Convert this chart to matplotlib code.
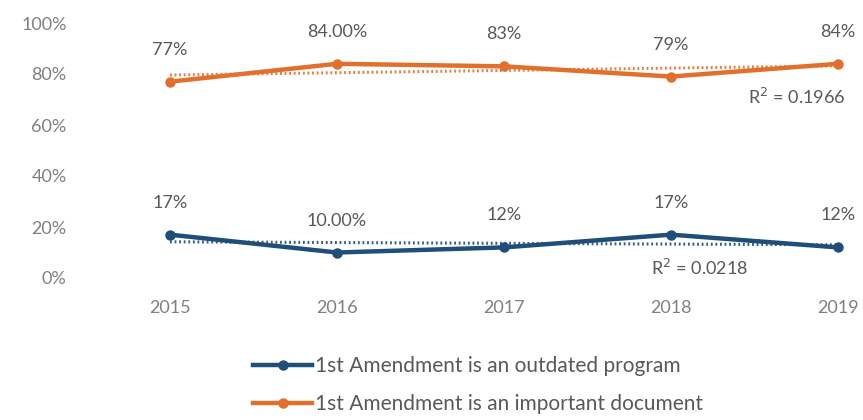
import numpy as np
import matplotlib
matplotlib.use("Agg")
import matplotlib.pyplot as plt
from matplotlib import font_manager

years = ["2015", "2016", "2017", "2018", "2019"]
outdated = [17, 10, 12, 17, 12]
important = [77, 84, 83, 79, 84]
outdated_decimals = [0, 2, 0, 0, 0]
important_decimals = [0, 2, 0, 0, 0]
series_names = ["1st Amendment is an outdated program",
                "1st Amendment is an important document"]
y_ticks = [0, 20, 40, 60, 80, 100]

available = {f.name for f in font_manager.fontManager.ttflist}
family = next((f for f in ["Lato", "Open Sans", "Liberation Sans", "DejaVu Sans"]
               if f in available), "DejaVu Sans")
plt.rcParams["font.family"] = [family, "DejaVu Sans"]

BLUE = "#1f4e79"
ORANGE = "#e0702c"
TEXT = "#595959"
TICK = "#808080"

W, H = 863, 420
fig = plt.figure(figsize=(W / 100, H / 100), dpi=100)
# axes spans x-px 75..863, y-px 23..278 (from top)
left_px, right_px = 75, 863
x0_px, step_px = 170, 167
xmin = -(x0_px - left_px) / step_px
xmax = 4 + (right_px - (x0_px + 4 * step_px)) / step_px
ax = fig.add_axes([left_px / W, (H - 278) / H, (right_px - left_px) / W, (278 - 23) / H])
ax.set_xlim(xmin, xmax)
ax.set_ylim(0, 100)
for s in ax.spines.values():
    s.set_visible(False)

x = np.arange(len(years))


def draw_series(vals, decimals, color, r2_pos):
    ax.plot(x, vals, color=color, lw=3.2, marker="o", ms=6.5, zorder=3, clip_on=False)
    slope, intercept = np.polyfit(x, vals, 1)
    fit = slope * x + intercept
    ss_res = np.sum((np.array(vals) - fit) ** 2)
    ss_tot = np.sum((np.array(vals) - np.mean(vals)) ** 2)
    r2 = 1 - ss_res / ss_tot
    ax.plot(x, fit, color=color, lw=2.2, linestyle=(0, (0.6, 0.9)), zorder=2, alpha=0.9)
    for xi, v, d in zip(x, vals, decimals):
        ax.annotate(f"{v:.{d}f}%", (xi, v), xytext=(0, 23), textcoords="offset points",
                    ha="center", va="center", fontsize=13, color=TEXT)
    ax.text(r2_pos[0], r2_pos[1], f"R$^2$ = {r2:.4f}", ha="center", va="center",
            fontsize=13, color=TEXT)


draw_series(outdated, outdated_decimals, BLUE, (3.17, 4))
draw_series(important, important_decimals, ORANGE, (3.75, 71))

ax.set_yticks(y_ticks)
ax.set_yticklabels([f"{t}%" for t in y_ticks])
ax.set_xticks(x)
ax.set_xticklabels(years)
ax.tick_params(axis="both", length=0, labelsize=13, labelcolor=TICK)
ax.tick_params(axis="y", pad=6)
ax.tick_params(axis="x", pad=16)

h1, = ax.plot([], [], color=BLUE, lw=3.2, marker="o", ms=6.5)
h2, = ax.plot([], [], color=ORANGE, lw=3.2, marker="o", ms=6.5)
fig.legend([h1, h2], series_names, loc="upper left",
           bbox_to_anchor=(243 / W, 1 - 346 / H), frameon=False, fontsize=15,
           labelcolor=TEXT, handlelength=2.8, handletextpad=0.15, labelspacing=0.85,
           borderpad=0)

fig.savefig("out.png", dpi=100, facecolor="white")
